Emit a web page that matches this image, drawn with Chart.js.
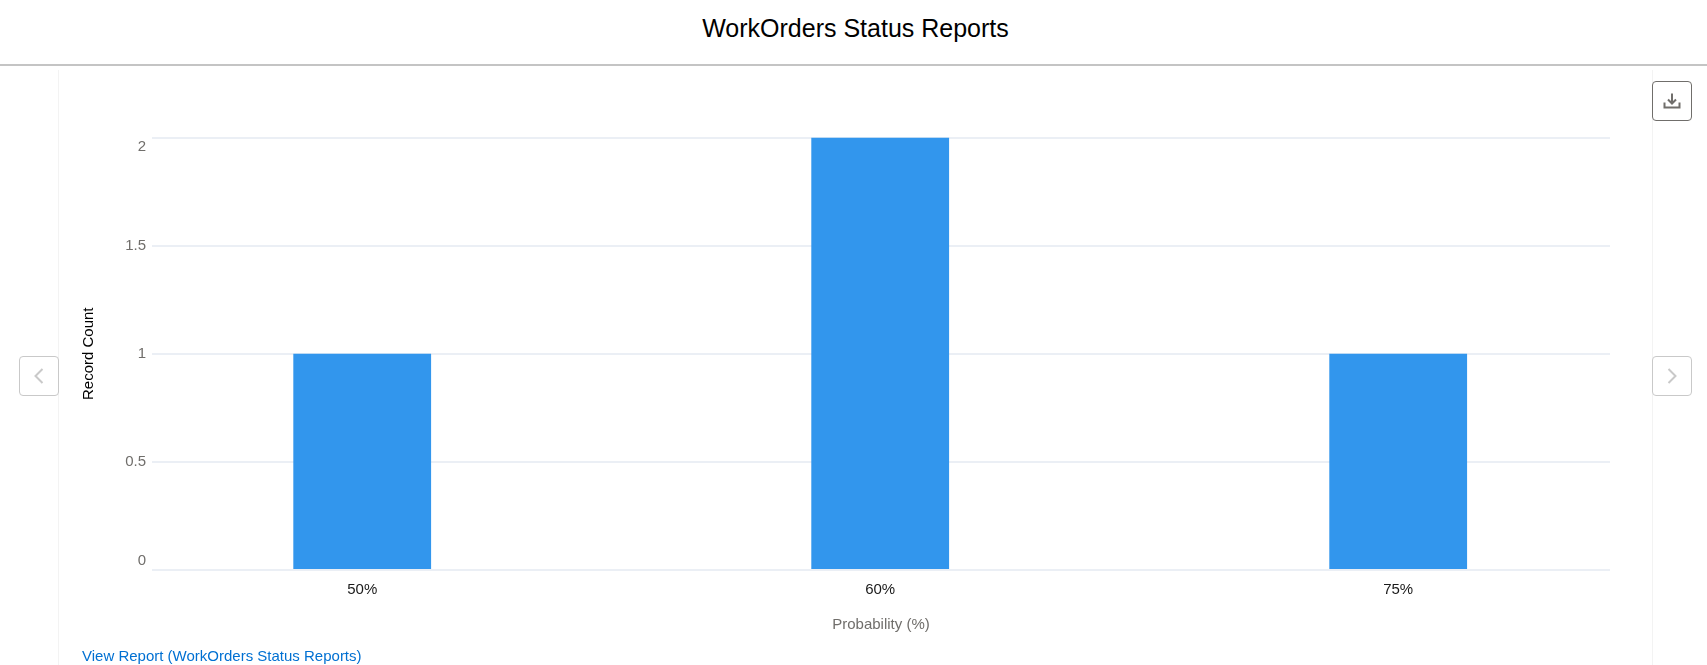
<!DOCTYPE html>
<html>
<head>
<meta charset="utf-8">
<title>WorkOrders Status Reports</title>
<script src="https://cdn.jsdelivr.net/npm/chart.js@4/dist/chart.umd.min.js"></script>
<style>
  html, body { margin: 0; height: 100%; background: #fff; overflow: hidden; font-family: "Liberation Sans", Arial, sans-serif; }
  .header { position: absolute; left: 2px; top: 0; width: 100%; height: 64px; text-align: center; line-height: 56px; font-size: 25px; color: #000; }
  .rule { position: absolute; left: 0; top: 64px; width: 100%; height: 2px; background: #c4c4c4; }
  .panel { position: absolute; left: 58px; top: 70px; width: 1593px; height: 595px; border-left: 1px solid #f3f3f3; border-right: 1px solid #f3f3f3; }
  #chart { position: absolute; left: 0; top: 0; }
  .link { position: absolute; left: 82px; top: 647px; font-size: 15px; color: #0070d2; text-decoration: none; }
  .btn { position: absolute; box-sizing: border-box; width: 40px; height: 40px; border: 1px solid #c9c9c9; border-radius: 4px; background: #fff; display: flex; align-items: center; justify-content: center; }
  .btn.download { left: 1652px; top: 81px; border-color: #706e6b; }
  .btn.prev { left: 19px; top: 356px; }
  .btn.next { left: 1652px; top: 356px; }
</style>
</head>
<body>
<div class="header">WorkOrders Status Reports</div>
<div class="rule"></div>
<div class="panel"><canvas id="chart" width="1595" height="595"></canvas></div>
<a class="link" href="#">View Report (WorkOrders Status Reports)</a>
<div class="btn download">
  <svg width="18" height="18" viewBox="0 0 18 18" fill="none" stroke="#706e6b" stroke-width="2">
    <path d="M9 1.5V11M5 7.5L9 11.5L13 7.5"/>
    <path d="M1.5 10.5V15.5H16.5V10.5"/>
  </svg>
</div>
<div class="btn prev">
  <svg width="12" height="16" viewBox="0 0 12 16" fill="none" stroke="#c9c9c9" stroke-width="2"><path d="M9.5 1L2.5 8L9.5 15"/></svg>
</div>
<div class="btn next">
  <svg width="12" height="16" viewBox="0 0 12 16" fill="none" stroke="#c9c9c9" stroke-width="2"><path d="M2.5 1L9.5 8L2.5 15"/></svg>
</div>
<script>
const categories = ['50%', '60%', '75%'];
const recordCounts = [1, 2, 1];
const yTicks = [0, 0.5, 1, 1.5, 2];
const xTitle = 'Probability (%)';
const yTitle = 'Record Count';

Chart.defaults.font.family = '"Liberation Sans", Arial, sans-serif';

new Chart(document.getElementById('chart'), {
  type: 'bar',
  data: {
    datasets: [{
      data: recordCounts.map((v, i) => ({ x: i, y: v })),
      backgroundColor: '#3296ed',
      categoryPercentage: 1,
      barPercentage: 0.266
    }]
  },
  options: {
    responsive: false,
    animation: false,
    devicePixelRatio: 1,
    layout: { padding: { left: 21, right: 44, top: 67.5, bottom: 31 } },
    plugins: { legend: { display: false }, tooltip: { enabled: false } },
    scales: {
      x: {
        type: 'linear',
        offset: false,
        // bars sit further in than the ends of the gridlines
        min: -0.4058,
        max: 2.4089,
        afterBuildTicks: (scale) => { scale.ticks = categories.map((c, i) => ({ value: i })); },
        afterFit: (scale) => { scale.height = 64; },
        grid: { display: false, drawTicks: false },
        border: { display: false },
        ticks: {
          autoSkip: false,
          maxRotation: 0,
          padding: 11,
          color: '#1a1a1a',
          font: { size: 15 },
          callback: (value) => categories[value]
        },
        title: { display: true, text: xTitle, color: '#706e6b', font: { size: 15 }, padding: { top: 0, bottom: 0 } }
      },
      y: {
        min: 0,
        max: 2,
        afterBuildTicks: (scale) => { scale.ticks = yTicks.map((v) => ({ value: v })); },
        afterFit: (scale) => { scale.width = 72; },
        grid: { color: '#ebeff5', lineWidth: 2, drawTicks: false },
        border: { display: false },
        ticks: {
          autoSkip: false,
          padding: 6,
          color: '#706e6b',
          font: { size: 15 },
          // blank line pushes the end labels inward from their gridlines
          callback: (value) => {
            if (value === 2) return ['', '2'];
            if (value === 0) return ['0', ''];
            return String(value);
          }
        },
        title: { display: true, text: yTitle, color: '#000', font: { size: 15 }, padding: { top: 0, bottom: 0 } }
      }
    }
  }
});
</script>
</body>
</html>
